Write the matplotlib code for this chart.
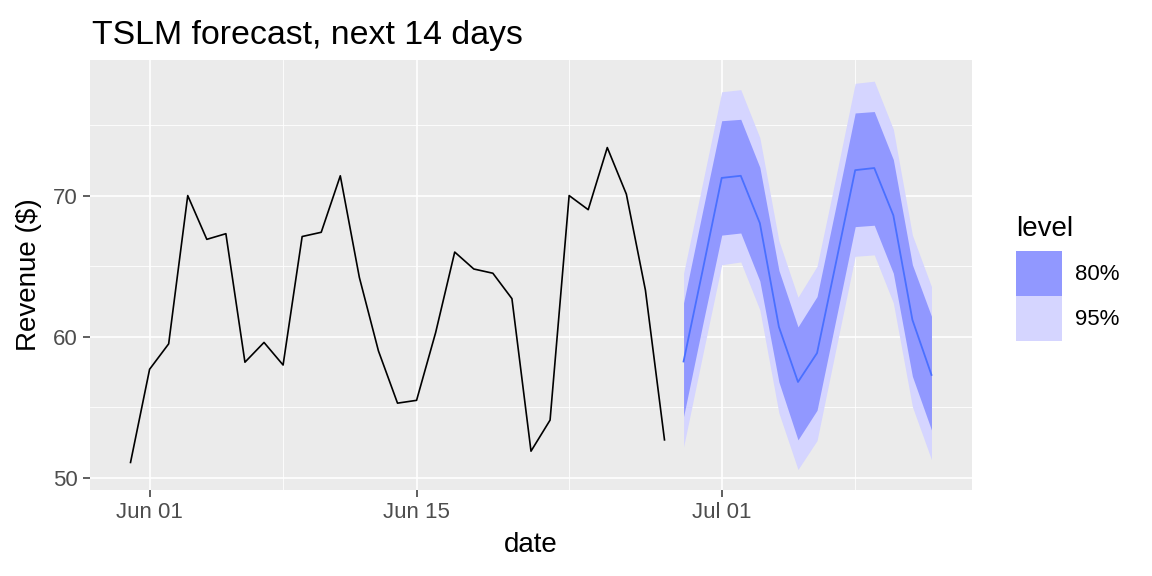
import numpy as np
import pandas as pd
import matplotlib
matplotlib.use("Agg")
import matplotlib.pyplot as plt
import matplotlib.dates as mdates

plt.rcParams['font.family'] = ['Liberation Sans', 'DejaVu Sans']

# history: May 31 .. Jun 28
hist_dates = pd.date_range('2021-05-31', periods=29, freq='D')
revenue = [51.1, 57.7, 59.5, 70.0, 66.9, 67.3, 58.2, 59.6, 58.0, 67.1,
           67.4, 71.4, 64.2, 59.0, 55.3, 55.5, 60.3, 66.0, 64.8, 64.5,
           62.7, 51.9, 54.1, 70.0, 69.0, 73.4, 70.1, 63.3, 52.7]

# forecast: Jun 29 .. Jul 12
fc_dates = pd.date_range('2021-06-29', periods=14, freq='D')
fc_mean = [58.25, 64.7, 71.25, 71.4, 68.05, 60.7, 56.8, 58.85, 65.3, 71.8, 71.95, 68.6, 61.2, 57.3]
hi80 = [62.4, 68.9, 75.3, 75.4, 72.0, 64.7, 60.7, 62.85, 69.3, 75.85, 75.95, 72.55, 65.1, 61.45]
lo80 = [54.35, 60.85, 67.2, 67.35, 63.95, 56.8, 52.7, 54.8, 61.3, 67.8, 67.9, 64.5, 57.2, 53.4]
hi95 = [64.5, 70.9, 77.35, 77.5, 74.1, 66.8, 62.8, 65.0, 71.4, 77.95, 78.1, 74.7, 67.2, 63.55]
lo95 = [52.2, 58.7, 65.1, 65.3, 61.9, 54.6, 50.6, 52.65, 59.2, 65.7, 65.8, 62.4, 55.05, 51.3]

fig = plt.figure(figsize=(11.52, 5.76), dpi=100)
ax = fig.add_axes([90 / 1152, 1 - 490 / 576, 882 / 1152, 430 / 576])
ax.set_facecolor('#EBEBEB')
for s in ax.spines.values():
    s.set_visible(False)

b95 = ax.fill_between(fc_dates, lo95, hi95, color='#D5D5FF', lw=0, label='95%', zorder=2)
b80 = ax.fill_between(fc_dates, lo80, hi80, color='#9198FF', lw=0, label='80%', zorder=3)
ax.plot(fc_dates, fc_mean, color='#4A70FF', lw=1.3, zorder=4)
ax.plot(hist_dates, revenue, color='black', lw=1.2, zorder=4)

ax.set_xlim(pd.Timestamp('2021-05-28 21:00'), pd.Timestamp('2021-07-14 03:00'))
ax.set_ylim(49.15, 79.6)

ax.set_xticks(pd.to_datetime(['2021-06-01', '2021-06-15', '2021-07-01']))
ax.set_xticks(pd.to_datetime(['2021-06-08', '2021-06-23', '2021-07-08']), minor=True)
ax.xaxis.set_major_formatter(mdates.DateFormatter('%b %d'))
ax.set_yticks([50, 60, 70])
ax.set_yticks([55, 65, 75], minor=True)

ax.grid(which='major', color='white', lw=1.2, zorder=1)
ax.grid(which='minor', color='white', lw=0.6, zorder=1)
ax.set_axisbelow(True)
ax.tick_params(which='major', length=5, width=1.1, color='#333333',
               labelsize=16, labelcolor='#4D4D4D', pad=4)
ax.tick_params(which='minor', length=0)

ax.set_xlabel('date', fontsize=20, labelpad=6)
ax.set_ylabel(r'Revenue (\$)', fontsize=20, labelpad=8)
fig.text(92 / 1152, 1 - 44 / 576, 'TSLM forecast, next 14 days', fontsize=24.4)

# legend: title drawn separately, keys via legend
fig.text(1016 / 1152, 1 - 236 / 576, 'level', fontsize=20)
leg = ax.legend(handles=[b80, b95], labels=['80%', '95%'],
                loc='upper left', bbox_to_anchor=(1016 / 1152, 1 - 251 / 576),
                bbox_transform=fig.transFigure, frameon=False, borderpad=0,
                fontsize=16, handlelength=2.07, handleheight=2.75,
                labelspacing=0, handletextpad=0.6, borderaxespad=0)

fig.savefig('out.png', dpi=100)
